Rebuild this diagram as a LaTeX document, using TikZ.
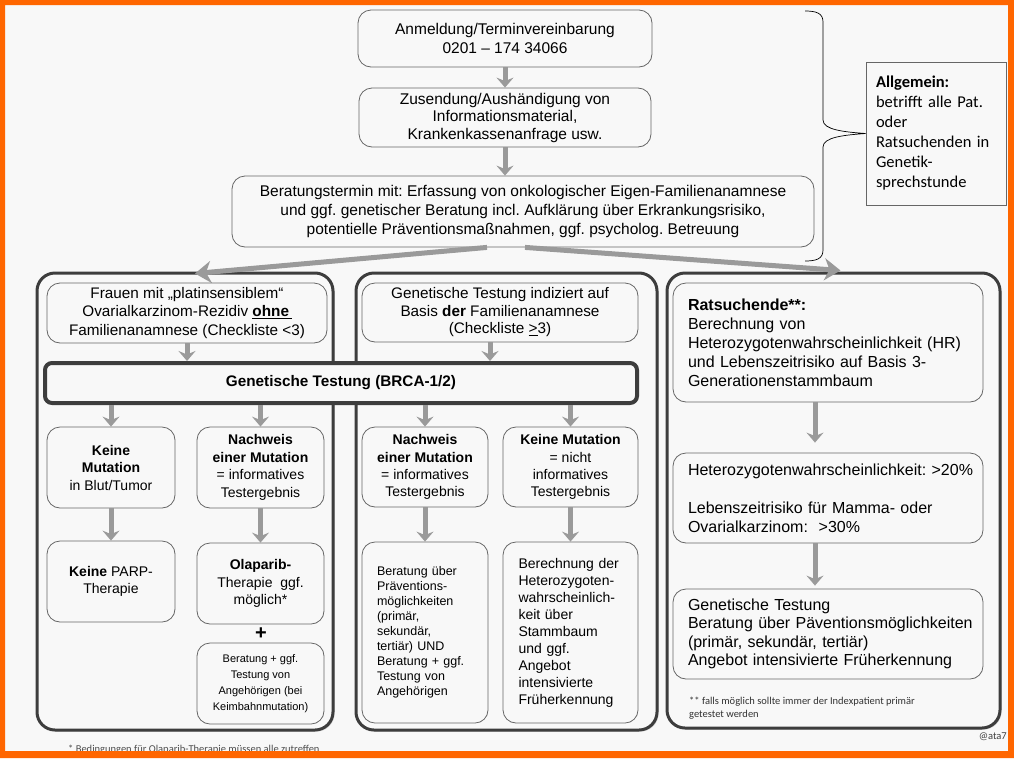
\documentclass[tikz,border=0pt]{standalone}
\usepackage{fontspec}
\setmainfont{Liberation Sans}
\newfontfamily\calibri{Carlito}
\usetikzlibrary{shapes.geometric,arrows.meta,shadows}
\frenchspacing
\definecolor{framecol}{HTML}{FF6600}
\definecolor{bgcol}{HTML}{F8F8F8}
\definecolor{arrowcol}{HTML}{9A9A9A}
\definecolor{panelcol}{HTML}{3D3D3D}
\definecolor{linecol}{HTML}{666666}
\newcommand{\fsz}[2]{\fontsize{#1}{#2}\selectfont}
\tikzstyle{process} = [rectangle, rounded corners=13pt, draw=linecol, line width=0.8pt, fill=bgcol, align=center, inner sep=0pt]
\tikzstyle{panel} = [rectangle, rounded corners=18pt, draw=panelcol, line width=3pt, fill=bgcol, inner sep=0pt, drop shadow={shadow xshift=1.5pt, shadow yshift=-1.5pt, opacity=0.35}]
\tikzstyle{testbar} = [rectangle, rounded corners=7pt, draw=panelcol, line width=4pt, fill=bgcol, inner sep=0pt]
\tikzstyle{note} = [rectangle, draw=linecol, line width=0.8pt, fill=bgcol, align=left, inner xsep=10pt, inner ysep=0pt]
\tikzstyle{arrow} = [line width=5pt, draw=arrowcol, -{Stealth[length=10pt,width=17pt,inset=3.5pt]}]
\tikzstyle{bigarrow} = [line width=5pt, draw=arrowcol, -{Stealth[length=16pt,width=22pt,inset=5pt]}]

\begin{document}
\begin{tikzpicture}[x=1pt, y=-1pt]
    \useasboundingbox (0,0) rectangle (1014,758);
    \fill[bgcol] (0,0) rectangle (1014,758);

    \node (anmeldung) [process, minimum width=294pt, minimum height=57pt, font=\fsz{15.5}{18.5}] at (505,38.5) {Anmeldung/Terminvereinbarung\\0201 – 174 34066};
    \node (zusendung) [process, minimum width=292pt, minimum height=59pt, font=\fsz{15.5}{17.5}] at (505,117.5) {Zusendung/Aushändigung von\\Informationsmaterial,\\Krankenkassenanfrage usw.};
    \node (beratung) [process, minimum width=582pt, minimum height=71pt, font=\fsz{15.5}{19}] at (523,211.5) {Beratungstermin mit: Erfassung von onkologischer Eigen-Familienanamnese\\und ggf. genetischer Beratung incl. Aufklärung über Erkrankungsrisiko,\\potentielle Präventionsmaßnahmen, ggf. psycholog. Betreuung};
    \node (allgemein) [note, minimum width=140pt, minimum height=143pt, text width=120pt, font=\calibri\fsz{16.5}{20}] at (936,133.5) {\textbf{Allgemein:}\\betrifft alle Pat.\\oder\\Ratsuchenden in\\Genetik-\\sprechstunde};

    \draw [line width=0.7pt] (805,11) .. controls (816,11) and (823,13) .. (823,22) -- (823,120) .. controls (823,130) and (845,132) .. (allgemein.west) .. controls (845,135) and (823,137) .. (823,147) -- (823,250) .. controls (823,259) and (816,261) .. (805,261);

    \draw [arrow] (anmeldung) -- (zusendung);
    \draw [arrow] (zusendung.south) -- (zusendung.south |- beratung.north);

    \node (leftpanel) [panel, minimum width=296pt, minimum height=457pt] at (185,501.5) {};
    \node (midpanel) [panel, minimum width=301pt, minimum height=457pt] at (506.5,501.5) {};
    \node (rightpanel) [panel, minimum width=333pt, minimum height=455pt] at (833.5,500.5) {};

    \draw [bigarrow] ([xshift=-36pt]beratung.south) -- ([xshift=10pt,yshift=-2pt]leftpanel.north);
    \draw [bigarrow] ([xshift=2pt]beratung.south) -- ([xshift=7pt,yshift=1pt]rightpanel.north);

    \node (frauen) [process, minimum width=280pt, minimum height=60pt, font=\fsz{15.3}{18.5}] at (187,313) {Frauen mit „platinsensiblem“\\Ovarialkarzinom-Rezidiv \underline{\textbf{ohne}\,}\\Familienanamnese (Checkliste <3)};
    \node (indiziert) [process, minimum width=276pt, minimum height=59pt, font=\fsz{15.3}{17.5}] at (500,312.5) {Genetische Testung indiziert auf\\Basis \textbf{der} Familienanamnese\\(Checkliste \underline{>}3)};
    \node (testung) [testbar, minimum width=592pt, minimum height=40pt, font=\bfseries\fsz{15.3}{18}] at (341,383) {Genetische Testung (BRCA-1/2)};

    \draw [arrow] (frauen.south) -- (frauen.south |- testung.north);
    \draw [arrow] ([xshift=-10pt]indiziert.south) -- ([xshift=-10pt]indiziert.south |- testung.north);

    \node (keineL) [process, minimum width=128pt, minimum height=81pt, font=\fsz{14}{17.5}] at (111,467.5) {\textbf{Keine}\\\textbf{Mutation}\\in Blut/Tumor};
    \node (nachweisL) [process, minimum width=127pt, minimum height=81pt, font=\fsz{14}{17.7}] at (260.5,467.5) {\textbf{Nachweis}\\\textbf{einer Mutation}\\= informatives\\Testergebnis};
    \node (nachweisM) [process, minimum width=126pt, minimum height=80pt, font=\fsz{14}{17.2}] at (425,467) {\textbf{Nachweis}\\\textbf{einer Mutation}\\= informatives\\Testergebnis};
    \node (keineM) [process, minimum width=135pt, minimum height=80pt, font=\fsz{14}{17.2}] at (570.5,467) {\textbf{Keine Mutation}\\= nicht\\informatives\\Testergebnis};

    \draw [arrow] (testung.south -| keineL) -- (keineL.north);
    \draw [arrow] (testung.south -| nachweisL) -- (nachweisL.north);
    \draw [arrow] (testung.south -| nachweisM) -- (nachweisM.north);
    \draw [arrow] (testung.south -| keineM) -- (keineM.north);

    \node (parp) [process, minimum width=128pt, minimum height=81pt, font=\fsz{14}{17}] at (111,581.5) {\textbf{Keine} PARP-\\Therapie};
    \node (olaparib) [process, minimum width=127pt, minimum height=81pt, font=\fsz{14}{17.5}] at (260.5,583.5) {\textbf{Olaparib-}\\Therapie\ \ ggf.\\möglich*};
    \node (plus) [font=\bfseries\fsz{20}{20}, inner sep=0pt] at (261,634) {+};
    \node (angehoerige) [process, minimum width=127pt, minimum height=81pt, font=\fsz{11}{16}] at (260.5,683.5) {Beratung + ggf.\\Testung von\\Angehörigen (bei\\Keimbahnmutation)};
    \node (praevention) [process, minimum width=126pt, minimum height=181pt, text width=96pt, align=left, inner xsep=15pt, font=\fsz{12.5}{15}] at (425,632.5) {Beratung über\\Präventions-\\möglichkeiten\\(primär,\\sekundär,\\tertiär) UND\\Beratung + ggf.\\Testung von\\Angehörigen};
    \node (berechnung) [process, minimum width=135pt, minimum height=181pt, text width=104pt, align=left, inner xsep=15.5pt, font=\fsz{14}{17}] at (570.5,632.5) {Berechnung der\\Heterozygoten-\\wahrscheinlich-\\keit über\\Stammbaum\\und ggf.\\Angebot\\intensivierte\\Früherkennung};

    \draw [arrow] (keineL) -- (parp);
    \draw [arrow] (nachweisL) -- (olaparib);
    \draw [arrow] (nachweisM) -- (praevention);
    \draw [arrow] (keineM) -- (berechnung);

    \node (ratsuchende) [process, minimum width=310pt, minimum height=119pt, text width=280pt, align=left, inner xsep=15pt, font=\fsz{16}{19}] at (828,342.5) {\textbf{Ratsuchende**:}\\Berechnung von\\\mbox{Heterozygotenwahrscheinlichkeit (HR)}\\\mbox{und Lebenszeitrisiko auf Basis 3-}\\Generationenstammbaum};
    \node (hetero) [process, minimum width=310pt, minimum height=90pt, text width=280pt, align=left, inner xsep=15pt, font=\fsz{16}{19}] at (828,498) {\mbox{Heterozygotenwahrscheinlichkeit: >20\%}\\[19pt]\mbox{Lebenszeitrisiko für Mamma- oder}\\Ovarialkarzinom:\ \ >30\%};
    \node (gentest) [process, minimum width=310pt, minimum height=90pt, text width=280pt, align=left, inner xsep=15pt, font=\fsz{16}{18.5}] at (828,634) {Genetische Testung\\\mbox{Beratung über Päventionsmöglichkeiten}\\(primär, sekundär, tertiär)\\\mbox{Angebot intensivierte Früherkennung}};

    \draw [arrow] ([xshift=-13pt]ratsuchende.south) -- ([xshift=-13pt,yshift=10pt]hetero.north);
    \draw [arrow] ([xshift=-13pt]hetero.south) -- ([xshift=-13pt,yshift=3pt]gentest.north);

    \node (indexnote) [anchor=west, align=left, inner sep=0pt, text=black!80, font=\calibri\fsz{10.5}{13}] at (689,708) {** falls möglich sollte immer der Indexpatient primär\\getestet werden};
    \node (ata) [anchor=east, inner sep=0pt, text=black!75, font=\calibri\fsz{10.5}{12}] at (1007,737) {@ata7};
    \node (olanote) [anchor=west, inner sep=0pt, text=black!70, font=\calibri\fsz{10.5}{12}] at (68,749.5) {* Bedingungen für Olaparib-Therapie müssen alle zutreffen};

    \fill[framecol, even odd rule] (0,0) rectangle (1014,758) (5,5) rectangle (1008,751);
\end{tikzpicture}
\end{document}
